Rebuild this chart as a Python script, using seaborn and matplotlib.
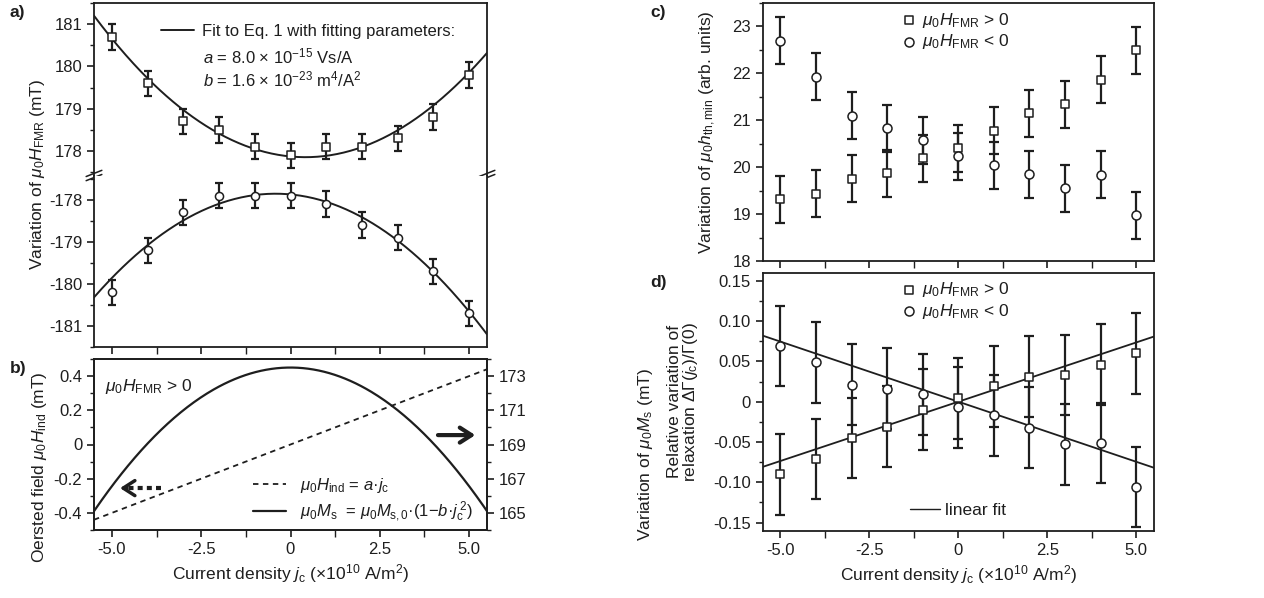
import numpy as np
import pandas as pd
import matplotlib
matplotlib.use("Agg")
import matplotlib.pyplot as plt
import seaborn as sns
from matplotlib.ticker import MultipleLocator, FixedLocator, FuncFormatter
from matplotlib.lines import Line2D

# ---------------- data ----------------
jc = [-5, -4, -3, -2, -1, 0, 1, 2, 3, 4, 5]

# panel a: resonance field
hfmr_pos = [180.7, 179.6, 178.7, 178.5, 178.1, 177.9, 178.1, 178.1, 178.3, 178.8, 179.8]
hfmr_neg = [-180.2, -179.2, -178.3, -177.9, -177.9, -177.9, -178.1, -178.6, -178.9, -179.7, -180.7]
hfmr_err = 0.3
# fit parameters (Eq. 1): H = +/-(H0 + k*j^2) - a*j
fit_H0 = 177.87
fit_k = 0.0955
fit_a = 0.08          # mT per 1e10 A/m^2  (a = 8.0e-15 Vs/A)

# panel b: model curves
ms0 = 173.5           # mT
b_coef = 1.6e-3       # per (1e10 A/m^2)^2  (b = 1.6e-23 m^4/A^2)

# panel c: threshold field
hth_pos = [19.32, 19.43, 19.75, 19.87, 20.19, 20.40, 20.78, 21.15, 21.34, 21.86, 22.49]
hth_neg = [22.70, 21.93, 21.10, 20.83, 20.57, 20.23, 20.04, 19.85, 19.55, 19.84, 18.97]
hth_err = 0.5

# panel d: relaxation
rel_pos = [-0.090, -0.071, -0.045, -0.031, -0.010, 0.004, 0.019, 0.031, 0.033, 0.046, 0.060]
rel_neg = [0.069, 0.049, 0.021, 0.016, 0.009, -0.007, -0.017, -0.032, -0.053, -0.051, -0.106]
rel_err = 0.05
lin_slope_pos = 0.0147
lin_slope_neg = -0.0149

# ---------------- style ----------------
sns.set_theme(style="ticks")
dark = "#1e1e1e"
FS = 12
plt.rcParams.update({
    "font.family": ["Liberation Sans", "DejaVu Sans"],
    "font.size": FS,
    "mathtext.fontset": "custom",
    "mathtext.rm": "Liberation Sans",
    "mathtext.it": "Liberation Sans:italic",
    "mathtext.bf": "Liberation Sans:bold",
    "axes.unicode_minus": False,
    "axes.edgecolor": dark,
    "axes.linewidth": 1.3,
    "xtick.color": dark, "ytick.color": dark,
    "text.color": dark, "axes.labelcolor": dark,
    "xtick.direction": "out", "ytick.direction": "out",
    "xtick.major.size": 5, "ytick.major.size": 5,
    "xtick.minor.size": 3, "ytick.minor.size": 3,
    "xtick.major.width": 1.2, "ytick.major.width": 1.2,
    "xtick.minor.width": 1.0, "ytick.minor.width": 1.0,
    "xtick.labelsize": FS, "ytick.labelsize": FS,
})

fig = plt.figure(figsize=(12.64, 5.98), dpi=100)
W, H = 1264, 598
def box(l, t, r, b):
    return [l / W, 1 - b / H, (r - l) / W, (b - t) / H]

axA1 = fig.add_axes(box(94, 3, 487, 175.5))
axA2 = fig.add_axes(box(94, 175.5, 487, 347))
axB = fig.add_axes(box(94, 359, 487, 530))
axC = fig.add_axes(box(762.7, 3, 1154, 261))
axD = fig.add_axes(box(762.7, 272.7, 1154, 530.7))

xlim = (-5.5, 5.5)
xs = np.linspace(xlim[0], xlim[1], 300)
df = pd.DataFrame({"j": jc, "ap": hfmr_pos, "an": hfmr_neg,
                   "cp": hth_pos, "cn": hth_neg, "dp": rel_pos, "dn": rel_neg})

def points(ax, col, err, marker, cap, label=None, s=34):
    ax.errorbar(df["j"], df[col], yerr=err, fmt="none", ecolor=dark,
                elinewidth=1.6, capsize=cap, capthick=1.6, zorder=3)
    sns.scatterplot(data=df, x="j", y=col, ax=ax, marker=marker, s=s,
                    facecolor="white", edgecolor=dark, linewidth=1.1,
                    zorder=4, label=label, legend=False)

def zero_fmt(dec):
    return FuncFormatter(lambda v, p: "0" if abs(v) < 1e-9 else f"{v:.{dec}f}")

# ---------------- panel a ----------------
fit_up = fit_H0 - fit_a * xs + fit_k * xs ** 2
fit_lo = -fit_H0 - fit_a * xs - fit_k * xs ** 2
sns.lineplot(x=xs, y=fit_up, ax=axA1, color=dark, lw=1.4, zorder=2)
sns.lineplot(x=xs, y=fit_lo, ax=axA2, color=dark, lw=1.4, zorder=2)
points(axA1, "ap", hfmr_err, "s", 3)
points(axA2, "an", hfmr_err, "o", 3)
axA1.set_ylim(177.42, 181.5)
axA2.set_ylim(-181.5, -177.42)
for ax in (axA1, axA2):
    ax.set_xlim(*xlim)
    ax.set_ylabel("")
    ax.set_xlabel("")
    ax.yaxis.set_major_locator(MultipleLocator(1))
    ax.yaxis.set_minor_locator(MultipleLocator(0.5))
    ax.yaxis.set_major_formatter(zero_fmt(0))
    ax.tick_params(axis="y", which="both", right=False)
axA1.spines["bottom"].set_visible(False)
axA1.tick_params(axis="x", which="both", bottom=False, labelbottom=False)
axA2.spines["top"].set_visible(False)
axA2.xaxis.set_major_locator(MultipleLocator(2.5))
axA2.xaxis.set_minor_locator(MultipleLocator(1.25))
axA2.tick_params(axis="x", which="both", labelbottom=False)
axA2.tick_params(axis="x", which="minor", length=5)

# axis-break marks
for xb in (0.0, 1.0):
    for dy in (-0.012, 0.012):
        axA1.plot([xb - 0.02, xb + 0.02], [dy - 0.018, dy + 0.018],
                  transform=axA1.transAxes, color=dark, lw=1.1, clip_on=False)

axA1.legend(handles=[Line2D([], [], color=dark, lw=1.4)],
            labels=["Fit to Eq. 1 with fitting parameters:"],
            loc="center left", bbox_to_anchor=(0.17, 0.835), frameon=False,
            handlelength=2.0, handletextpad=0.5, borderpad=0, borderaxespad=0,
            fontsize=FS)
axA1.text(0.278, 0.69, r"$a$ = 8.0 × 10$^{-15}$ Vs/A", transform=axA1.transAxes,
          va="center", ha="left", fontsize=FS)
axA1.text(0.278, 0.555, r"$b$ = 1.6 × 10$^{-23}$ m$^{4}$/A$^{2}$", transform=axA1.transAxes,
          va="center", ha="left", fontsize=FS)
fig.text(38 / W, 1 - 174 / H, r"Variation of $\mu_0H_\mathrm{FMR}$ (mT)", rotation=90,
         ha="center", va="center", fontsize=12.5)

# ---------------- panel b ----------------
h_ind = fit_a * xs
m_s = ms0 * (1 - b_coef * xs ** 2)
sns.lineplot(x=xs, y=h_ind, ax=axB, color=dark, lw=1.3, linestyle=(0, (3, 2.5)))
axB2 = axB.twinx()
sns.lineplot(x=xs, y=m_s, ax=axB2, color=dark, lw=1.6)
axB.set_xlim(*xlim)
axB.set_ylim(-0.5, 0.5)
axB2.set_ylim(164, 174)
axB.yaxis.set_major_locator(MultipleLocator(0.2))
axB.yaxis.set_minor_locator(MultipleLocator(0.1))
axB.yaxis.set_major_formatter(zero_fmt(1))
axB2.yaxis.set_major_locator(FixedLocator([165, 167, 169, 171, 173]))
axB2.yaxis.set_minor_locator(MultipleLocator(1))
axB.xaxis.set_major_locator(MultipleLocator(2.5))
axB.xaxis.set_minor_locator(MultipleLocator(1.25))
axB.tick_params(axis="x", which="minor", length=5)
axB.xaxis.set_major_formatter(zero_fmt(1))
axB.set_xlabel(r"Current density $j_\mathrm{c}$ (×10$^{10}$ A/m$^{2}$)", fontsize=12.5, labelpad=4)
axB.set_ylabel(r"Oersted field $\mu_0H_\mathrm{ind}$ (mT)", fontsize=12.5)
axB.yaxis.set_label_coords(-0.115, 0.37)
axB2.set_ylabel(r"Variation of $\mu_0M_\mathrm{s}$ (mT)", fontsize=12.5)
axB2.yaxis.set_label_coords(1.38, 0.44)
axB.text(-5.2, 0.34, r"$\mu_0H_\mathrm{FMR}$ > 0", fontsize=12.5, va="center", ha="left")
axB.annotate("", xy=(5.25, 0.055), xytext=(4.05, 0.055),
             arrowprops=dict(arrowstyle="->,head_length=0.7,head_width=0.45", lw=3, color=dark))
axB.plot([-3.62, -4.55], [-0.255, -0.255], color=dark, lw=3, linestyle=(0, (1.2, 1.0)))
axB.annotate("", xy=(-4.85, -0.255), xytext=(-4.5, -0.255),
             arrowprops=dict(arrowstyle="->,head_length=0.7,head_width=0.45", lw=2.5, color=dark))
axB.legend(handles=[Line2D([], [], color=dark, lw=1.3, linestyle=(0, (3, 2.5))),
                    Line2D([], [], color=dark, lw=1.6)],
           labels=[r"$\mu_0H_\mathrm{ind}$ = $a$·$j_\mathrm{c}$",
                   r"$\mu_0M_\mathrm{s}$  = $\mu_0M_{\mathrm{s},0}$·(1−$b$·$j_\mathrm{c}^{\,2}$)"],
           loc="upper left", bbox_to_anchor=(0.405, 0.315), frameon=False,
           handlelength=2.0, handletextpad=0.8, borderpad=0, borderaxespad=0,
           labelspacing=0.25, fontsize=FS)

# ---------------- panel c ----------------
leg_kw = dict(loc="upper left", frameon=False, handlelength=0.8, handletextpad=0.35,
              borderpad=0, borderaxespad=0, labelspacing=0.15, fontsize=12.5)
points(axC, "cp", hth_err, "s", 3.8, label=r"$\mu_0H_\mathrm{FMR}$ > 0", s=30)
points(axC, "cn", hth_err, "o", 3.8, label=r"$\mu_0H_\mathrm{FMR}$ < 0", s=42)
axC.set_xlim(*xlim)
axC.set_ylim(18.0, 23.5)
axC.yaxis.set_major_locator(MultipleLocator(1))
axC.yaxis.set_minor_locator(MultipleLocator(0.5))
axC.yaxis.set_major_formatter(zero_fmt(0))
axC.xaxis.set_major_locator(MultipleLocator(2.5))
axC.xaxis.set_minor_locator(MultipleLocator(1.25))
axC.tick_params(axis="x", which="minor", length=5)
axC.tick_params(axis="x", which="both", labelbottom=False)
axC.set_xlabel("")
axC.set_ylabel(r"Variation of $\mu_0h_\mathrm{th,min}$ (arb. units)", fontsize=12.5)
axC.yaxis.set_label_coords(-0.115, 0.5)
axC.legend(bbox_to_anchor=(0.355, 0.97), **leg_kw)

# ---------------- panel d ----------------
sns.lineplot(x=xs, y=lin_slope_pos * xs, ax=axD, color=dark, lw=1.3)
sns.lineplot(x=xs, y=lin_slope_neg * xs, ax=axD, color=dark, lw=1.3)
points(axD, "dp", rel_err, "s", 3.8, label=r"$\mu_0H_\mathrm{FMR}$ > 0", s=30)
points(axD, "dn", rel_err, "o", 3.8, label=r"$\mu_0H_\mathrm{FMR}$ < 0", s=42)
axD.set_xlim(*xlim)
axD.set_ylim(-0.16, 0.16)
axD.yaxis.set_major_locator(MultipleLocator(0.05))
axD.yaxis.set_minor_locator(MultipleLocator(0.025))
axD.yaxis.set_major_formatter(zero_fmt(2))
axD.xaxis.set_major_locator(MultipleLocator(2.5))
axD.xaxis.set_minor_locator(MultipleLocator(1.25))
axD.tick_params(axis="x", which="minor", length=5)
axD.xaxis.set_major_formatter(zero_fmt(1))
axD.set_xlabel(r"Current density $j_\mathrm{c}$ (×10$^{10}$ A/m$^{2}$)", fontsize=12.5, labelpad=4)
axD.set_ylabel("Relative variation of\n" + r"relaxation $\Delta\Gamma(j_\mathrm{c})/\Gamma(0)$",
               fontsize=12.5, linespacing=0.95)
axD.yaxis.set_label_coords(-0.16, 0.5)
h, l = axD.get_legend_handles_labels()
leg1 = axD.legend(h[-2:], l[-2:], bbox_to_anchor=(0.355, 0.97), **leg_kw)
axD.add_artist(leg1)
axD.legend(handles=[Line2D([], [], color=dark, lw=1.0)], labels=["linear fit"],
           loc="lower left", bbox_to_anchor=(0.377, 0.05), frameon=False,
           handlelength=1.7, handletextpad=0.3, borderpad=0, borderaxespad=0, fontsize=12.5)

# panel letters
for txt, x, y in [("a)", 10, 12), ("b)", 10, 368), ("c)", 650, 12), ("d)", 650, 283)]:
    fig.text(x / W, 1 - y / H, txt, fontsize=12.5, fontweight="bold", ha="left", va="center")

fig.savefig("out.png", dpi=100)
